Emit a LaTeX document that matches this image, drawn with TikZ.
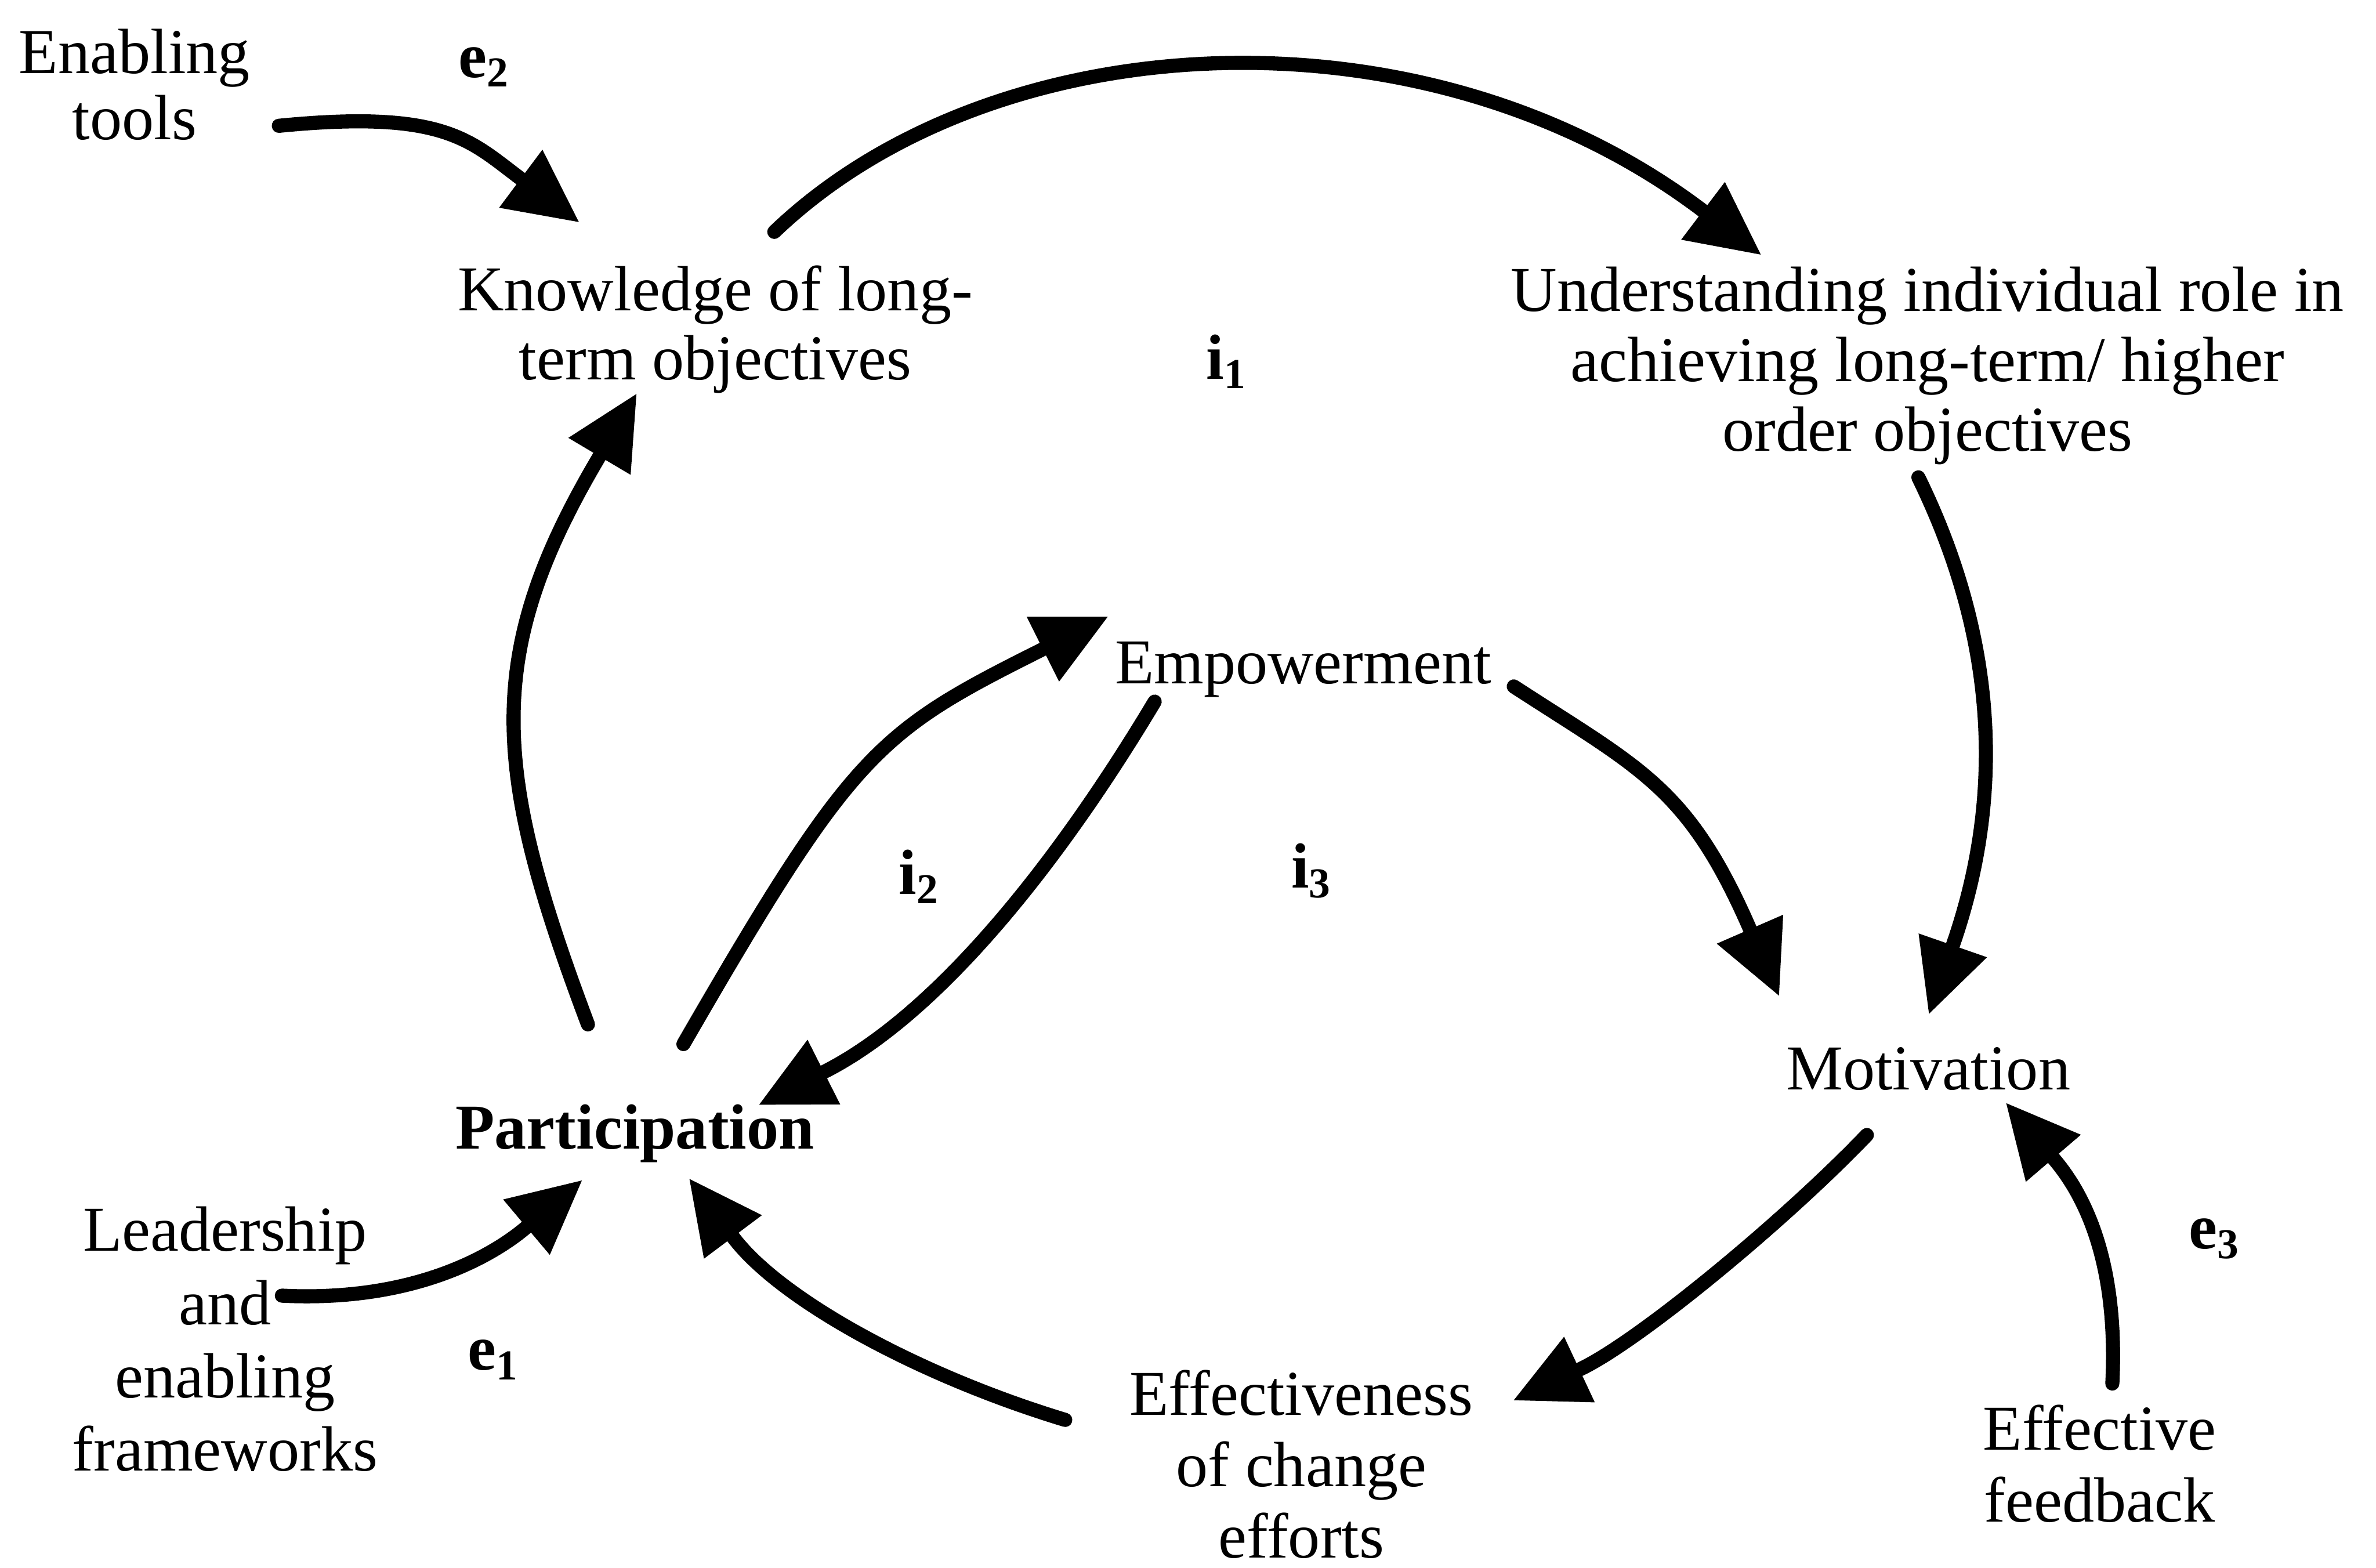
\documentclass[tikz,border=0pt]{standalone}
\usepackage{fontspec}
\setmainfont{Liberation Serif}
\usetikzlibrary{arrows.meta}

% multi-line text block; the node's base anchor sits on the first line
\newcommand{\stack}[2][13.2]{{\fontsize{12}{#1}\selectfont\begin{tabular}[t]{@{}c@{}}#2\end{tabular}}}
% bold loop / input label such as e_1 or i_2
\newcommand{\lbl}[2]{\textbf{#1\textsubscript{#2}}}

\tikzset{
  txt/.style={inner sep=0pt, anchor=base, font=\fontsize{12}{13.2}\selectfont},
  lab/.style={txt},
  flow/.style={line width=2.65pt, line cap=round,
    -{Triangle[length=13.6pt, width=13.6pt, line width=0pt]}},
}

\begin{document}
\begin{tikzpicture}[x=0.01cm, y=-0.01cm]
\useasboundingbox (0,0) rectangle (1568,1034.4);

% ---- concepts ----
\node[txt] (enabl) at (88.8,48.5)  {\stack[12.4]{Enabling\\tools}};
\node[txt] (know)  at (472,205)    {\stack[13.0]{Knowledge of long-\\term objectives}};
\node[txt] (under) at (1272,205.5) {\stack[13.1]{Understanding individual role in\\achieving long-term/ higher\\order objectives}};
\node[txt] (emp)   at (860,451)    {Empowerment};
\node[txt] (part)  at (419,758)    {\textbf{Participation}};
\node[txt] (mot)   at (1272.5,719) {Motivation};
\node[txt] (lead)  at (148.5,825.6){\stack[13.75]{Leadership\\and\\enabling\\frameworks}};
\node[txt] (eff)   at (858.8,934)  {\stack[13.35]{Effectiveness\\of change\\efforts}};
\node[txt] (feed)  at (1385.7,957) {\stack[13.5]{Effective\\feedback}};

% ---- loop and input labels ----
\node[lab] (le2) at (320,51)  {\lbl{e}{2}};
\node[lab] (li1) at (810,250) {\lbl{i}{1}};
\node[lab] (li2) at (607,590) {\lbl{i}{2}};
\node[lab] (li3) at (866,586) {\lbl{i}{3}};
\node[lab] (le1) at (326,904) {\lbl{e}{1}};
\node[lab] (le3) at (1462,824){\lbl{e}{3}};

% ---- connector end points beside the concepts ----
\coordinate (enabl-out) at (184,83);
\coordinate (know-e2)   at (382,146.5);
\coordinate (know-out)  at (511,153);
\coordinate (under-in)  at (1162,168);
\coordinate (under-out) at (1266,315);
\coordinate (mot-top)   at (1273,669);
\coordinate (emp-right) at (999,453);
\coordinate (mot-left)  at (1174,657);
\coordinate (mot-out)   at (1232,749);
\coordinate (eff-in)    at (999,924);
\coordinate (eff-out)   at (703,937);
\coordinate (part-eff)  at (455,778);
\coordinate (part-up)   at (388,676);
\coordinate (know-in)   at (420,260);
\coordinate (part-emp)  at (451,689);
\coordinate (emp-in)    at (731,407);
\coordinate (emp-down)  at (762,463);
\coordinate (part-in)   at (501,729);
\coordinate (lead-out)  at (186,855);
\coordinate (part-lead) at (384,779);
\coordinate (feed-out)  at (1394,913);
\coordinate (mot-fb)    at (1324,728);

% ---- connectors ----
\draw[flow] (enabl-out) .. controls (294,72.2) and (310,92.8) .. (know-e2);
\draw[flow] (know-out)  .. controls (655,15) and (939,-1) .. (under-in);
\draw[flow] (under-out) .. controls (1323.2,432) and (1319,536.8) .. (mot-top);
\draw[flow] (emp-right) .. controls (1082.9,507.5) and (1114,519.5) .. (mot-left);
\draw[flow] (mot-out)   .. controls (1176.8,806.6) and (1080.5,885.9) .. (eff-in);
\draw[flow] (eff-out)   .. controls (607.3,908) and (515,858) .. (part-eff);
\draw[flow] (part-up)   .. controls (324.6,507.5) and (318,432) .. (know-in);
\draw[flow] (part-emp)  .. controls (563,495) and (579,483) .. (emp-in);
\draw[flow] (emp-down)  .. controls (695.7,573.8) and (617,670.4) .. (part-in);
\draw[flow] (lead-out)  .. controls (286,860) and (337,818.6) .. (part-lead);
\draw[flow] (feed-out)  .. controls (1398.5,823) and (1369.5,781.2) .. (mot-fb);
\end{tikzpicture}
\end{document}
